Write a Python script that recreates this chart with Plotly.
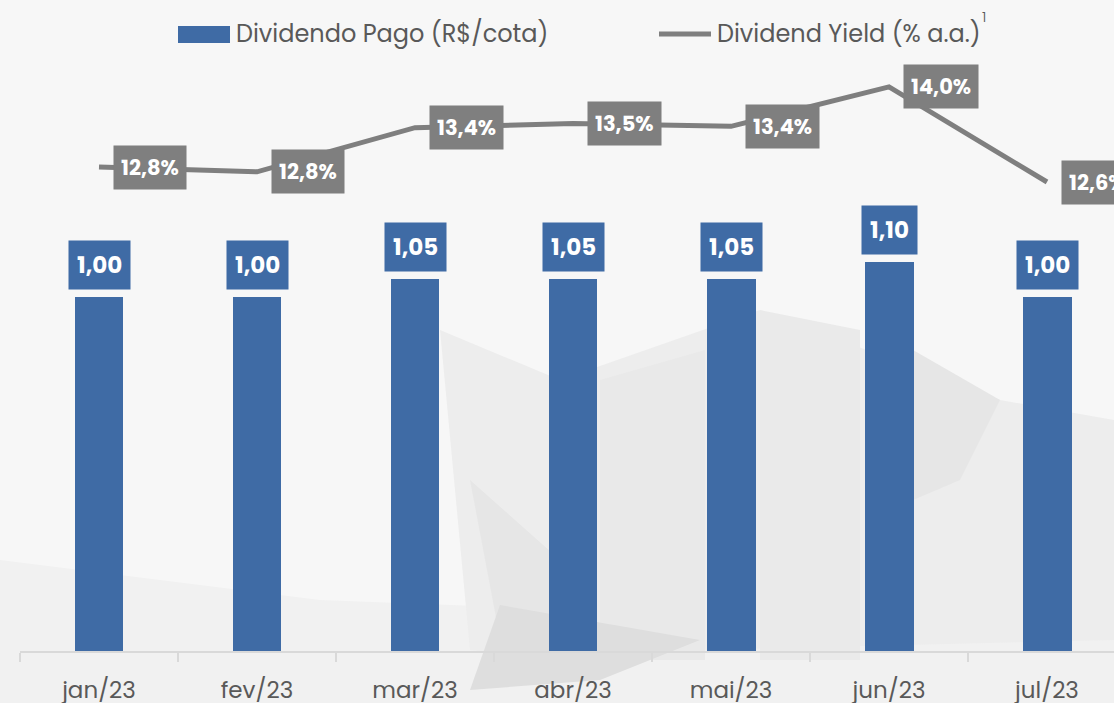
import plotly.graph_objects as go

# ---- data ----
months = ["jan/23", "fev/23", "mar/23", "abr/23", "mai/23", "jun/23", "jul/23"]
dividendo = [1.00, 1.00, 1.05, 1.05, 1.05, 1.10, 1.00]
dy_yield = [12.82, 12.75, 13.40, 13.46, 13.42, 14.00, 12.60]
bar_name = "Dividendo Pago (R$/cota)"
line_name = "Dividend Yield (% a.a.)"

BLUE = "#3F6BA5"
GRAY = "#7F7F7F"
TXT = "#595959"
FONT = "Poppins, Open Sans, sans-serif"

W, H = 1114, 703
ML, MB = 20, 52
PW, PH = W - ML, H - MB


def px(x):
    return (x - ML) / PW


def py(y):
    return 1 - y / PH


fig = go.Figure()
fig.add_trace(go.Bar(x=months, y=dividendo, marker=dict(color=BLUE, line=dict(width=0)),
                     width=0.31, name=bar_name, hoverinfo="skip"))
fig.add_trace(go.Scatter(x=months, y=dy_yield, yaxis="y2", mode="lines",
                         line=dict(color=GRAY, width=5), name=line_name, hoverinfo="skip"))

ann = []
for i, (m, v) in enumerate(zip(months, dividendo)):
    ann.append(dict(x=m, y=v, xref="x", yref="y", text=f"<b>{v:.2f}</b>".replace(".", ","),
                    showarrow=False, yanchor="bottom", yshift=7, bgcolor=BLUE, borderpad=8,
                    font=dict(family=FONT, size=23, color="white")))
for i, (m, v) in enumerate(zip(months, dy_yield)):
    ann.append(dict(x=m, y=v, xref="x", yref="y2", text=f"<b>{v:.1f}%</b>".replace(".", ","),
                    showarrow=False, xanchor="left", yanchor="middle", xshift=14,
                    bgcolor=GRAY, borderpad=7,
                    font=dict(family=FONT, size=21, color="white")))

# legend (manual)
ann.append(dict(x=px(234), y=py(33), xref="paper", yref="paper", text=bar_name, showarrow=False,
                xanchor="left", yanchor="middle", font=dict(family=FONT, size=24, color=TXT)))
ann.append(dict(x=px(715), y=py(33), xref="paper", yref="paper", text=line_name, showarrow=False,
                xanchor="left", yanchor="middle", font=dict(family=FONT, size=24, color=TXT)))
ann.append(dict(x=px(980), y=py(17), xref="paper", yref="paper", text="1", showarrow=False,
                xanchor="left", yanchor="middle",
                font=dict(family="Poppins Light, Poppins, sans-serif", size=15, color=TXT, weight=300)))

shapes = []
# background polygons (faint)
bg_polys = [
    ([(0, 560), (320, 600), (1114, 630), (1114, 703), (0, 703)], "#F1F1F1"),
    ([(440, 330), (560, 380), (760, 310), (1000, 400), (1114, 420), (1114, 640),
      (700, 650), (560, 660), (470, 650)], "#EDEDED"),
    ([(470, 480), (560, 560), (560, 665), (505, 665)], "#E6E6E6"),
    ([(600, 380), (705, 350), (705, 660), (600, 660)], "#E9E9E9"),
    ([(760, 310), (860, 330), (860, 660), (760, 660)], "#EAEAEA"),
    ([(913, 350), (1000, 400), (960, 480), (913, 500)], "#E6E6E6"),
    ([(500, 605), (700, 640), (600, 680), (470, 690)], "#DEDEDE"),
]
for pts, col in bg_polys:
    path = "M " + " L ".join(f"{px(x)},{py(y)}" for x, y in pts) + " Z"
    shapes.append(dict(type="path", xref="paper", yref="paper", path=path,
                       fillcolor=col, line=dict(width=0), layer="below"))
shapes.append(dict(type="rect", xref="paper", yref="paper", x0=px(178), x1=px(230),
                   y0=py(43), y1=py(26), fillcolor=BLUE, line=dict(width=0)))
shapes.append(dict(type="line", xref="paper", yref="paper", x0=px(659), x1=px(711),
                   y0=py(34), y1=py(34), line=dict(color=GRAY, width=5)))

fig.update_layout(
    width=W, height=H,
    margin=dict(l=ML, r=0, t=0, b=MB, autoexpand=False),
    paper_bgcolor="#F7F7F7", plot_bgcolor="rgba(0,0,0,0)",
    showlegend=False, bargap=0,
    font=dict(family=FONT, color=TXT),
    annotations=ann, shapes=shapes,
    xaxis=dict(range=[-0.5, 6.424], showline=True, linecolor="#D9D9D9", linewidth=2,
               ticks="outside", tickson="boundaries", ticklen=9, tickcolor="#D9D9D9",
               tickwidth=2, showgrid=False, zeroline=False, automargin=False,
               ticklabelstandoff=17,
               tickfont=dict(family=FONT, size=23, color=TXT), fixedrange=True),
    yaxis=dict(range=[0, PH / 354], visible=False, showgrid=False, zeroline=False),
    yaxis2=dict(range=[12.6 - 469 / 67.9, 12.6 + 182 / 67.9], overlaying="y", visible=False,
                showgrid=False, zeroline=False),
)

fig.write_html("out.html")
